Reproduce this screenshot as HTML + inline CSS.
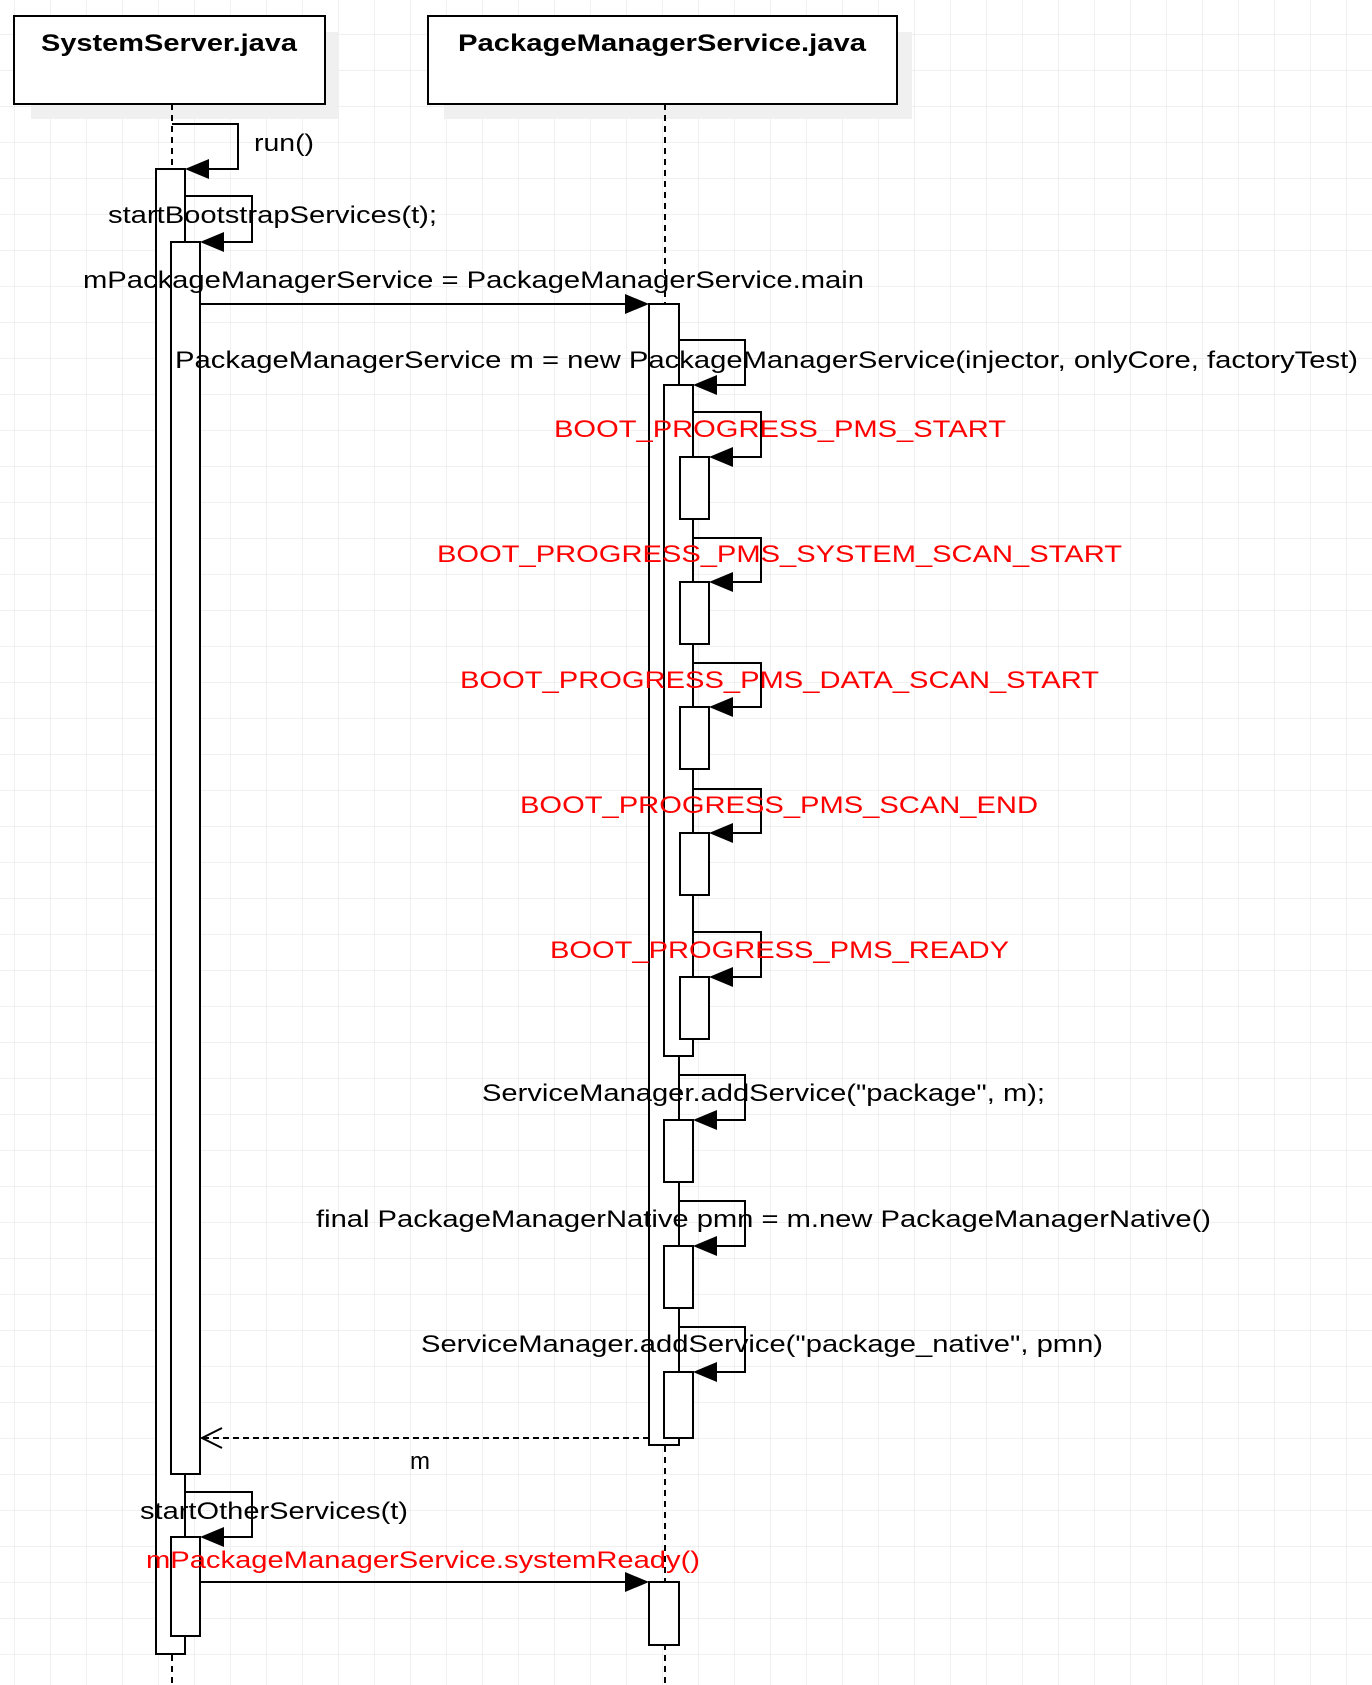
<!DOCTYPE html>
<html><head><meta charset="utf-8"><style>
html,body{margin:0;padding:0;background:#fff;}
svg{display:block;}
text{font-family:"Liberation Sans",Arial,sans-serif;font-size:24px;}
</style></head><body>
<svg width="1372" height="1685" viewBox="0 0 1372 1685" xmlns="http://www.w3.org/2000/svg">
<defs>
<pattern id="g" x="14" y="-2" width="36" height="36" patternUnits="userSpaceOnUse">
<path d="M0 0H36M0 0V36" stroke="#ebebeb" stroke-width="1.5" fill="none"/>
</pattern>
</defs>
<rect width="1372" height="1685" fill="url(#g)"/>
<!-- shadows -->
<rect x="31" y="32" width="308" height="87" fill="#f0f0f0"/>
<rect x="444" y="32" width="468" height="87" fill="#f0f0f0"/>
<!-- headers -->
<rect x="14" y="16" width="311" height="88" fill="#fff" stroke="#000" stroke-width="2"/>
<rect x="428" y="16" width="469" height="88" fill="#fff" stroke="#000" stroke-width="2"/>
<text x="169" y="51" text-anchor="middle" font-weight="bold" textLength="256" lengthAdjust="spacingAndGlyphs">SystemServer.java</text>
<text x="662" y="51" text-anchor="middle" font-weight="bold" textLength="408" lengthAdjust="spacingAndGlyphs">PackageManagerService.java</text>
<!-- lifelines -->
<g stroke="#000" stroke-width="2" stroke-dasharray="6,5">
<line x1="172" y1="104" x2="172" y2="1685"/>
<line x1="665" y1="104" x2="665" y2="1685"/>
</g>
<g fill="#fff" stroke="#000" stroke-width="2">
<!-- SS bars -->
<rect x="156" y="169" width="29" height="1485"/>
<rect x="171" y="242" width="29" height="1232"/>
<rect x="171" y="1537" width="29" height="99"/>
<!-- PMS bars -->
<rect x="649" y="304" width="30" height="1141"/>
<rect x="664" y="385" width="29" height="671"/>
<rect x="680" y="457" width="29" height="62"/>
<rect x="680" y="582" width="29" height="62"/>
<rect x="680" y="707" width="29" height="62"/>
<rect x="680" y="833" width="29" height="62"/>
<rect x="680" y="977" width="29" height="62"/>
<rect x="664" y="1120" width="29" height="62"/>
<rect x="664" y="1246" width="29" height="62"/>
<rect x="664" y="1372" width="29" height="66"/>
<rect x="649" y="1582" width="30" height="63"/>
</g>
<!-- self loops -->
<g fill="none" stroke="#000" stroke-width="2">
<polyline points="172,124 238,124 238,169 200,169"/>
<polyline points="185,196 252,196 252,242 215,242"/>
<polyline points="679,340 745,340 745,385 708,385"/>
<polyline points="693,412 761,412 761,457 724,457"/>
<polyline points="693,538 761,538 761,582 724,582"/>
<polyline points="693,663 761,663 761,707 724,707"/>
<polyline points="693,789 761,789 761,833 724,833"/>
<polyline points="693,932 761,932 761,977 724,977"/>
<polyline points="679,1075 745,1075 745,1120 708,1120"/>
<polyline points="679,1201 745,1201 745,1246 708,1246"/>
<polyline points="679,1327 745,1327 745,1372 708,1372"/>
<polyline points="185,1492 252,1492 252,1537 215,1537"/>
<line x1="200" y1="304" x2="630" y2="304"/>
<line x1="200" y1="1582" x2="630" y2="1582"/>
<line x1="649" y1="1438" x2="202" y2="1438" stroke-dasharray="6,4"/>
<polyline points="222,1428 202,1438 222,1448"/>
</g>
<!-- arrowheads -->
<g fill="#000">
<polygon points="185,169 209,159 209,179"/>
<polygon points="200,242 224,232 224,252"/>
<polygon points="693,385 717,375 717,395"/>
<polygon points="709,457 733,447 733,467"/>
<polygon points="709,582 733,572 733,592"/>
<polygon points="709,707 733,697 733,717"/>
<polygon points="709,833 733,823 733,843"/>
<polygon points="709,977 733,967 733,987"/>
<polygon points="693,1120 717,1110 717,1130"/>
<polygon points="693,1246 717,1236 717,1256"/>
<polygon points="693,1372 717,1362 717,1382"/>
<polygon points="200,1537 224,1527 224,1547"/>
<polygon points="649,304 625,294 625,314"/>
<polygon points="649,1582 625,1572 625,1592"/>
</g>
<!-- labels -->
<g fill="#000">
<text x="254" y="151" textLength="60" lengthAdjust="spacingAndGlyphs">run()</text>
<text x="108" y="223" textLength="329" lengthAdjust="spacingAndGlyphs">startBootstrapServices(t);</text>
<text x="83" y="288" textLength="781" lengthAdjust="spacingAndGlyphs">mPackageManagerService = PackageManagerService.main</text>
<text x="175" y="368" textLength="1183" lengthAdjust="spacingAndGlyphs">PackageManagerService m = new PackageManagerService(injector, onlyCore, factoryTest)</text>
<text x="482" y="1101" textLength="563" lengthAdjust="spacingAndGlyphs">ServiceManager.addService("package", m);</text>
<text x="316" y="1227" textLength="895" lengthAdjust="spacingAndGlyphs">final PackageManagerNative pmn = m.new PackageManagerNative()</text>
<text x="421" y="1352" textLength="682" lengthAdjust="spacingAndGlyphs">ServiceManager.addService("package_native", pmn)</text>
<text x="420" y="1469" text-anchor="middle">m</text>
<text x="140" y="1519" textLength="268" lengthAdjust="spacingAndGlyphs">startOtherServices(t)</text>
</g>
<g fill="#ff0000">
<text x="554" y="437" textLength="452" lengthAdjust="spacingAndGlyphs">BOOT_PROGRESS_PMS_START</text>
<text x="437" y="562" textLength="685" lengthAdjust="spacingAndGlyphs">BOOT_PROGRESS_PMS_SYSTEM_SCAN_START</text>
<text x="460" y="688" textLength="639" lengthAdjust="spacingAndGlyphs">BOOT_PROGRESS_PMS_DATA_SCAN_START</text>
<text x="520" y="813" textLength="518" lengthAdjust="spacingAndGlyphs">BOOT_PROGRESS_PMS_SCAN_END</text>
<text x="550" y="958" textLength="459" lengthAdjust="spacingAndGlyphs">BOOT_PROGRESS_PMS_READY</text>
<text x="146" y="1568" textLength="554" lengthAdjust="spacingAndGlyphs">mPackageManagerService.systemReady()</text>
</g>
</svg>
</body></html>
